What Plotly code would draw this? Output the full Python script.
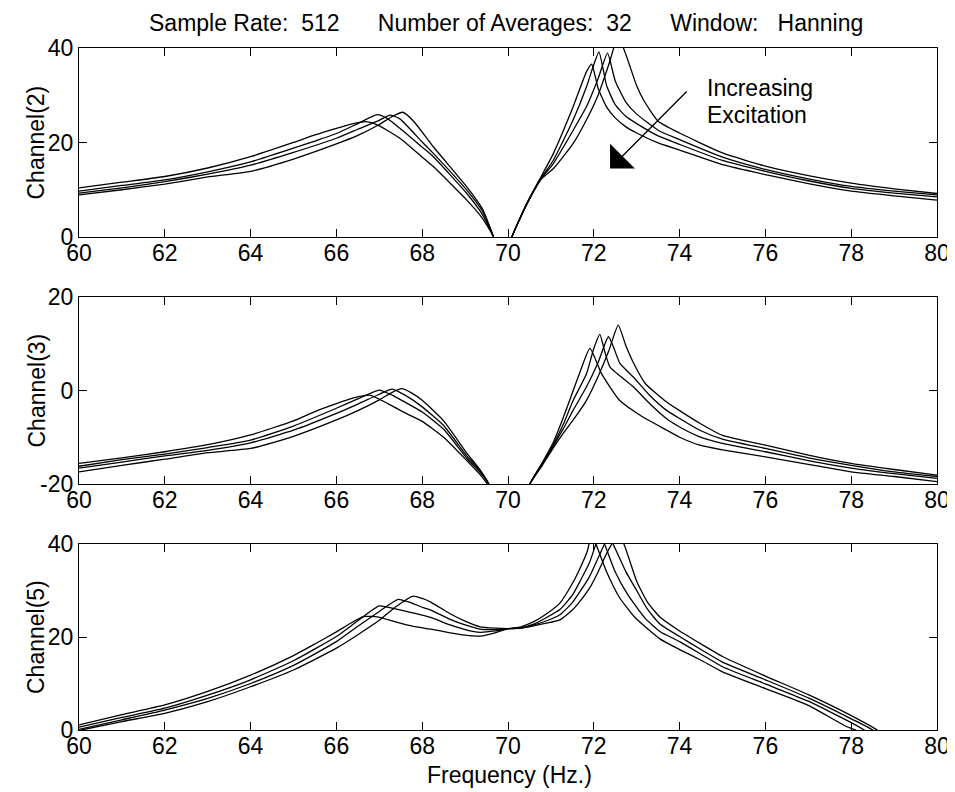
import plotly.graph_objects as go

# Channel(2): four excitation levels, c1 = lowest excitation
ch2_c1_f = [60, 61, 62, 63, 64, 65, 66, 66.5, 67, 67.3, 67.55, 67.8, 68.26, 69.04, 69.4, 69.66, 69.75, 69.95,
            70.09, 70.44, 70.75, 71.06, 71.52, 71.83, 72.1, 72.35, 72.55, 72.69, 73.0, 73.16, 73.5, 74, 75, 76, 77, 78, 79, 80]
ch2_c1_db = [8.9, 10.0, 11.2, 12.7, 13.9, 16.5, 19.7, 21.5, 23.8, 25.5, 26.4, 24.5, 19.1, 10.6, 6.0, 0, -5, -5,
             0, 7.0, 12.0, 14.5, 19.8, 24.8, 30, 36.5, 42, 40, 32, 29, 24.5, 22, 17.8, 15, 13, 11.4, 10.2, 9.2]
ch2_c2_f = [60, 61, 62, 63, 64, 65, 66, 66.5, 67, 67.25, 67.48, 68.0, 68.26, 69.04, 69.4, 69.66, 69.75, 69.95,
            70.09, 70.44, 70.75, 71.06, 71.52, 71.83, 72.1, 72.32, 72.5, 72.75, 73.0, 73.5, 74, 75, 76, 77, 78, 79, 80]
ch2_c2_db = [9.3, 10.4, 11.7, 13.3, 15.2, 17.9, 20.9, 22.8, 24.7, 25.8, 25.0, 20.1, 17.7, 9.9, 5.5, 0, -5, -5,
             0, 7.0, 12.0, 15.6, 22.6, 27.6, 33.5, 38.9, 33, 28.5, 26.0, 22.6, 20.6, 16.9, 14.3, 12.3, 10.7, 9.7, 8.9]
ch2_c3_f = [60, 61, 62, 63, 64, 65, 65.5, 66, 66.5, 66.95, 67.2, 67.48, 68.0, 68.26, 69.04, 69.4, 69.66, 69.75, 69.95,
            70.09, 70.44, 70.75, 71.06, 71.52, 71.83, 72.0, 72.12, 72.3, 72.5, 72.75, 73.0, 73.5, 74, 75, 76, 77, 78, 79, 80]
ch2_c3_db = [9.7, 10.9, 12.1, 13.8, 15.9, 18.8, 20.3, 21.9, 24.0, 25.9, 25.0, 23.0, 19.0, 17.0, 9.2, 4.8, 0, -5, -5,
             0, 7.0, 12.1, 16.3, 24.8, 31.8, 36.5, 39.2, 32, 28, 25.5, 24.0, 21.4, 19.6, 16.2, 13.9, 11.9, 10.3, 9.3, 8.5]
ch2_c4_f = [60, 61, 62, 63, 64, 65, 65.5, 66, 66.4, 66.7, 67.0, 67.48, 68.0, 68.26, 69.04, 69.4, 69.66, 69.75, 69.95,
            70.09, 70.44, 70.75, 71.06, 71.52, 71.83, 71.95, 72.1, 72.3, 72.5, 72.75, 73.0, 73.5, 74, 75, 76, 77, 78, 79, 80]
ch2_c4_db = [10.4, 11.6, 12.8, 14.6, 17.0, 20.0, 21.6, 23.0, 24.0, 24.4, 23.5, 20.9, 16.9, 14.9, 7.8, 4.0, 0, -5, -5,
             0, 7.2, 12.4, 17.7, 27.6, 35.0, 36.6, 31.5, 27.5, 25.2, 23.3, 22.0, 19.9, 18.4, 15.3, 13.2, 11.3, 9.7, 8.7, 7.8]

# Channel(3)
ch3_c1_f = [60, 61, 62, 63, 64, 65, 66, 66.5, 67.0, 67.3, 67.52, 67.75, 68.0, 68.5, 69.04, 69.35, 69.55, 69.65,
            70.4, 70.51, 70.8, 71.06, 71.3, 71.52, 71.83, 72.1, 72.35, 72.57, 72.75, 72.92, 73.2, 73.69, 74.0, 74.47,
            75, 76, 77, 78, 79, 80]
ch3_c1_db = [-17.4, -16.0, -14.7, -13.3, -12.4, -9.8, -6.3, -4.3, -2.0, -0.4, 0.4, -0.5, -2.1, -6.5, -13.4, -17.0, -20, -24,
             -24, -20, -16, -12.2, -9.0, -6.3, -2.1, 3.0, 8.5, 14.0, 9.5, 6.0, 1.5, -2.4, -4.3, -7.0,
             -9.6, -11.7, -13.8, -15.6, -16.9, -18.1]
ch3_c2_f = [60, 61, 62, 63, 64, 65, 66, 66.5, 67.0, 67.3, 67.6, 68.0, 68.5, 69.04, 69.35, 69.55, 69.65,
            70.4, 70.51, 70.8, 71.06, 71.3, 71.52, 71.83, 72.1, 72.34, 72.45, 72.61, 72.92, 73.3, 73.69, 74.0, 74.47,
            75, 76, 77, 78, 79, 80]
ch3_c2_db = [-16.6, -15.3, -14.0, -12.8, -11.2, -8.5, -4.9, -2.9, -0.8, 0.3, -1.0, -3.5, -7.5, -14.0, -17.2, -20, -24,
             -24, -20, -15.8, -11.8, -8.0, -4.2, 0.8, 6.0, 11.5, 9.5, 5.8, 2.9, -1.0, -4.2, -6.0, -8.5,
             -10.4, -12.4, -14.4, -16.0, -17.4, -18.4]
ch3_c3_f = [60, 61, 62, 63, 64, 65, 66, 66.5, 67.0, 67.3, 67.6, 68.0, 68.5, 69.04, 69.35, 69.55, 69.65,
            70.4, 70.51, 70.8, 71.06, 71.3, 71.52, 71.83, 72.0, 72.14, 72.25, 72.38, 72.92, 73.3, 73.69, 74.0, 74.47,
            75, 76, 77, 78, 79, 80]
ch3_c3_db = [-16.2, -14.8, -13.6, -12.2, -10.6, -7.6, -3.8, -1.8, 0.1, -1.0, -2.5, -4.6, -8.3, -14.5, -17.5, -20, -24,
             -24, -20, -15.6, -11.5, -7.0, -2.1, 3.6, 9.0, 12.0, 8.5, 5.0, 0.8, -2.8, -6.0, -7.8, -9.9,
             -11.3, -13.1, -15.0, -16.6, -17.8, -18.8]
ch3_c4_f = [60, 61, 62, 63, 64, 65, 65.5, 66, 66.4, 66.77, 67.2, 67.6, 68.0, 68.5, 69.04, 69.35, 69.55, 69.65,
            70.4, 70.51, 70.8, 71.06, 71.3, 71.52, 71.7, 71.91, 72.18, 72.6, 73.08, 73.7, 74.0, 74.47,
            75, 76, 77, 78, 79, 80]
ch3_c4_db = [-15.6, -14.4, -13.1, -11.6, -9.5, -6.5, -4.5, -2.8, -1.6, -1.0, -2.8, -4.8, -6.6, -10.0, -15.0, -18.0, -20.5, -24,
             -24, -20, -15.4, -11.0, -5.5, 0.0, 4.5, 9.0, 3.6, -2.1, -5.3, -8.5, -10.0, -11.7,
             -12.7, -14.2, -15.8, -17.4, -18.4, -19.5]

# Channel(5)
ch5_c1_f = [60, 61, 62, 63, 64, 65, 66, 66.5, 67.0, 67.4, 67.79, 68.0, 68.2, 68.65, 69.0, 69.35, 69.7, 70.0, 70.3,
            70.6, 70.9, 71.21, 71.5, 71.68, 71.9, 72.1, 72.3, 72.45, 72.55, 72.7, 73.0, 73.25, 73.54, 74, 74.5,
            75, 76, 77, 78, 78.6, 78.8]
ch5_c1_db = [-0.1, 1.8, 3.6, 6.1, 9.3, 12.9, 17.6, 20.5, 23.6, 26.6, 28.8, 28.3, 27.5, 25.0, 23.4, 22.2, 21.9, 21.8, 21.9,
             22.4, 23.0, 23.7, 25.8, 27.7, 30.5, 34, 38, 40.5, 42, 40, 32, 27.5, 24.3, 21.3, 18.5,
             15.8, 11.6, 7.6, 3.1, 0, -2]
ch5_c2_f = [60, 61, 62, 63, 64, 65, 66, 66.5, 67.0, 67.44, 67.7, 68.0, 68.2, 68.65, 69.0, 69.35, 69.7, 70.0, 70.3,
            70.6, 70.9, 71.21, 71.5, 71.68, 71.9, 72.1, 72.25, 72.35, 72.45, 72.75, 73.0, 73.25, 73.54, 74, 74.5,
            75, 76, 77, 78, 78.5, 78.7]
ch5_c2_db = [0.15, 2.2, 4.3, 6.8, 10.0, 13.9, 19.0, 22.3, 25.5, 28.1, 27.5, 26.4, 25.8, 23.8, 22.6, 21.7, 21.6, 21.8, 21.9,
             22.6, 23.5, 24.8, 27.4, 29.8, 33.0, 37.0, 40, 42, 40, 34, 30, 26, 22.8, 20.1, 17.3,
             14.6, 10.8, 6.9, 2.4, 0, -2]
ch5_c3_f = [60, 61, 62, 63, 64, 65, 66, 66.5, 67.0, 67.4, 68.0, 68.2, 68.65, 69.0, 69.35, 69.7, 70.0, 70.3,
            70.6, 70.9, 71.21, 71.5, 71.68, 71.9, 72.05, 72.15, 72.25, 72.5, 72.8, 73.2, 73.54, 74, 74.5,
            75, 76, 77, 78, 78.3, 78.5]
ch5_c3_db = [0.6, 2.7, 4.7, 7.5, 10.8, 14.9, 20.1, 23.5, 26.7, 26.0, 24.7, 24.2, 22.6, 21.6, 21.0, 21.3, 21.8, 22.0,
             22.8, 24.2, 25.9, 29.0, 32.0, 36.0, 40, 42, 40, 34, 29, 24, 21.2, 19.0, 16.3,
             13.6, 9.9, 6.2, 1.6, 0, -2]
ch5_c4_f = [60, 61, 62, 63, 64, 65, 65.5, 66, 66.3, 66.63, 66.98, 67.4, 67.79, 68.2, 68.65, 69.0, 69.35, 69.7, 70.0, 70.3,
            70.6, 70.9, 71.21, 71.5, 71.68, 71.85, 71.95, 72.05, 72.3, 72.6, 72.95, 73.54, 74, 74.5,
            75, 76, 77, 77.9, 78.1, 78.3]
ch5_c4_db = [1.1, 3.3, 5.4, 8.3, 11.8, 16.0, 18.5, 21.1, 22.8, 24.4, 24.3, 23.2, 22.3, 21.7, 20.9, 20.4, 20.2, 20.9, 21.8, 22.2,
             23.3, 25.0, 27.3, 31.5, 34.8, 38.5, 42, 40, 34, 28.5, 24.3, 19.6, 17.3, 15.0,
             12.5, 8.9, 5.3, 0.7, 0, -2]

x_ticks = [60, 62, 64, 66, 68, 70, 72, 74, 76, 78, 80]
y_ticks_top = [0, 20, 40]
y_ticks_mid = [-20, 0, 20]

panels = [
    ("Channel(2)", [0, 40], y_ticks_top,
     [(ch2_c1_f, ch2_c1_db), (ch2_c2_f, ch2_c2_db), (ch2_c3_f, ch2_c3_db), (ch2_c4_f, ch2_c4_db)]),
    ("Channel(3)", [-20, 20], y_ticks_mid,
     [(ch3_c1_f, ch3_c1_db), (ch3_c2_f, ch3_c2_db), (ch3_c3_f, ch3_c3_db), (ch3_c4_f, ch3_c4_db)]),
    ("Channel(5)", [0, 40], y_ticks_top,
     [(ch5_c1_f, ch5_c1_db), (ch5_c2_f, ch5_c2_db), (ch5_c3_f, ch5_c3_db), (ch5_c4_f, ch5_c4_db)]),
]
domains = [[0.7229, 1.0], [0.3607, 0.6349], [0.0, 0.2727]]

FONT = "Liberation Sans, Arial, sans-serif"
fig = go.Figure()

for i, (name, yr, yt, curves) in enumerate(panels):
    n = "" if i == 0 else str(i + 1)
    for f, db in curves:
        fig.add_trace(go.Scatter(x=f, y=db, mode="lines", xaxis="x" + n, yaxis="y" + n,
                                 line=dict(color="black", width=1.3, shape="spline", smoothing=0.5),
                                 showlegend=False, hoverinfo="skip"))
    common = dict(showline=True, linecolor="black", linewidth=1.2, mirror="ticks", ticks="inside",
                  ticklen=8, tickwidth=1, tickcolor="black", showgrid=False, zeroline=False,
                  tickfont=dict(family=FONT, size=23, color="black"))
    fig.layout["xaxis" + n] = dict(common, domain=[0, 1], anchor="y" + n, range=[60, 80],
                                   tickvals=x_ticks, ticktext=[str(t) for t in x_ticks], ticklabelstandoff=-5)
    fig.layout["yaxis" + n] = dict(common, domain=domains[i], anchor="x" + n, range=yr,
                                   tickvals=yt, ticktext=[str(t) for t in yt])
    fig.add_annotation(text=name, xref="paper", yref="paper", x=-0.0501, y=sum(domains[i]) / 2,
                       xanchor="center", yanchor="middle", textangle=-90, showarrow=False,
                       font=dict(family=FONT, size=23, color="black"))

nb = "\u00a0"
title = f"Sample Rate:{nb*2}512{nb*6}Number of Averages:{nb*2}32{nb*6}Window:{nb*3}Hanning"
fig.add_annotation(text=title, xref="paper", yref="paper", x=0.4977, y=1.0366, xanchor="center", yanchor="middle",
                   showarrow=False, font=dict(family=FONT, size=23, color="black"))
fig.add_annotation(text="Frequency (Hz.)", xref="paper", yref="paper", x=0.502, y=-0.066,
                   xanchor="center", yanchor="middle", showarrow=False, font=dict(family=FONT, size=23, color="black"))

# arrow and label in the top panel
fig.add_annotation(x=72.38, y=14.5, ax=74.2, ay=31.1, xref="x", yref="y", axref="x", ayref="y",
                   showarrow=True, arrowhead=1, arrowsize=4.5, arrowwidth=1.3, arrowcolor="black", text="")
fig.add_annotation(text="Increasing", x=74.59, y=31.5, xref="x", yref="y", xanchor="left", yanchor="middle",
                   showarrow=False, font=dict(family=FONT, size=23, color="black"))
fig.add_annotation(text="Excitation", x=74.59, y=25.8, xref="x", yref="y", xanchor="left", yanchor="middle",
                   showarrow=False, font=dict(family=FONT, size=23, color="black"))

# the page body adds an 8 px offset, so left/top margins are reduced by 8
fig.update_layout(width=955, height=792, margin=dict(l=71, r=26, t=40, b=70, autoexpand=False),
                  paper_bgcolor="white", plot_bgcolor="white", showlegend=False)

fig.write_html("out.html")
